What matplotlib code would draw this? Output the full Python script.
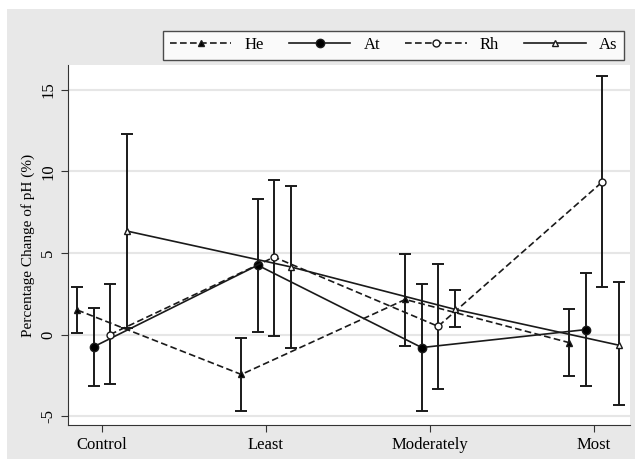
from matplotlib import pyplot as plt
from matplotlib.patches import Rectangle
import numpy as np

plt.rcParams['font.family'] = ['Liberation Serif', 'DejaVu Serif']

categories = ['Control', 'Least', 'Moderately', 'Most']
series = ['He', 'At', 'Rh', 'As']

# means and 95% CI limits
he_mean = [1.5, -2.45, 2.15, -0.5]
he_low = [0.1, -4.7, -0.7, -2.55]
he_high = [2.9, -0.2, 4.95, 1.55]

at_mean = [-0.75, 4.25, -0.8, 0.3]
at_low = [-3.15, 0.15, -4.7, -3.15]
at_high = [1.6, 8.3, 3.1, 3.8]

rh_mean = [0.0, 4.75, 0.5, 9.35]
rh_low = [-3.05, -0.1, -3.35, 2.9]
rh_high = [3.1, 9.45, 4.35, 15.85]

as_mean = [6.35, 4.15, 1.55, -0.65]
as_low = [0.4, -0.8, 0.45, -4.35]
as_high = [12.3, 9.1, 2.75, 3.2]

means = [he_mean, at_mean, rh_mean, as_mean]
lows = [he_low, at_low, rh_low, as_low]
highs = [he_high, at_high, rh_high, as_high]

offsets = [-0.15, -0.05, 0.05, 0.15]
styles = [('--', '^', 'k', 4.5),
          ('-', 'o', 'k', 6),
          ('--', 'o', 'none', 5),
          ('-', '^', 'none', 4.5)]

fig = plt.figure(figsize=(6.35, 4.59), dpi=100)
fig.patches.append(Rectangle((7 / 635, 0), 1, 1 - 9 / 459, transform=fig.transFigure,
                             facecolor='#e8e8e8', edgecolor='none', zorder=-10))
ax = fig.add_axes([68 / 635, 1 - 425 / 459, (630 - 68) / 635, (425 - 65) / 459])

x = np.arange(len(categories))
handles = []
for i in range(4):
    m = np.array(means[i])
    lo = m - np.array(lows[i])
    hi = np.array(highs[i]) - m
    ls, mk, fc, ms = styles[i]
    ax.errorbar(x + offsets[i], m, yerr=[lo, hi], fmt='none', ecolor='#1a1a1a',
                elinewidth=1.4, capsize=4, capthick=1.4, zorder=3)
    h, = ax.plot(x + offsets[i], m, linestyle=ls, marker=mk, color='#1a1a1a',
                 markerfacecolor=fc if fc != 'none' else 'white', markeredgecolor='#1a1a1a',
                 markersize=ms, linewidth=1.2, markeredgewidth=1.0, dashes=(4, 2) if ls == '--' else (None, None),
                 zorder=4, label=series[i])
    handles.append(h)

ax.set_xlim(-0.207, 3.22)
ax.set_ylim(-5.55, 16.53)
ax.set_xticks(x)
ax.set_xticklabels(categories, fontsize=12)
ax.set_yticks([-5, 0, 5, 10, 15])
ax.set_yticklabels(['-5', '0', '5', '10', '15'], fontsize=12, rotation=90, va='center')
ax.set_ylabel('Percentage Change of pH (%)', fontsize=11, labelpad=4)
ax.yaxis.grid(True, color='#e6e6e6', linewidth=1.5)
ax.set_axisbelow(True)
for s in ['top', 'right']:
    ax.spines[s].set_visible(False)
for s in ['left', 'bottom']:
    ax.spines[s].set_color('#333333')
ax.tick_params(direction='out', length=5, color='#333333')

leg = fig.legend(handles=handles, loc='lower left', ncol=4, mode='expand',
                 bbox_to_anchor=(163 / 635, 1 - 60 / 459, (624 - 163) / 635, 30 / 459),
                 frameon=True, fancybox=False, edgecolor='#222222', fontsize=12,
                 handlelength=3.7, handletextpad=0.8, borderaxespad=0, borderpad=0.4)
leg.get_frame().set_linewidth(1.0)

fig.savefig('out.png', dpi=100)
